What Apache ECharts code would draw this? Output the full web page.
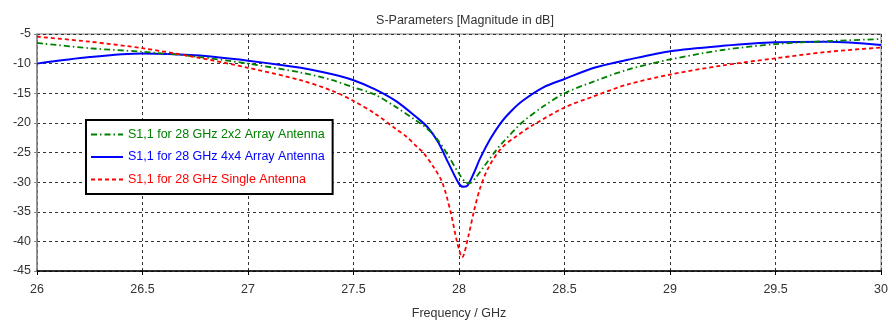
<!DOCTYPE html>
<html>
<head>
<meta charset="utf-8">
<script src="https://cdn.jsdelivr.net/npm/echarts@6/dist/echarts.min.js"></script>
<style>
  html, body { margin: 0; padding: 0; background: #fff; }
  #chart { width: 891px; height: 325px; }
</style>
</head>
<body>
<div id="chart"></div>
<script>
// values (GHz / dB)
const freq2x2 = [26, 26.25, 26.5, 26.75, 27, 27.25, 27.4, 27.5, 27.6, 27.7, 27.8, 27.85, 27.9, 27.95, 28, 28.03, 28.05, 28.08, 28.12, 28.17, 28.2, 28.3, 28.4, 28.5, 28.64, 28.8, 29, 29.25, 29.5, 29.75, 30];
const s11_2x2 = [-6.5, -7.4, -8.0, -8.8, -10.0, -11.5, -12.8, -14.0, -15.2, -17.3, -19.7, -21.0, -22.9, -25.6, -28.6, -30.0, -30.2, -29.2, -27.3, -24.9, -23.6, -19.9, -17.2, -15.0, -13.0, -11.0, -9.3, -7.7, -6.7, -6.2, -5.85];

const freq4x4 = [26, 26.25, 26.5, 26.75, 27, 27.25, 27.4, 27.5, 27.6, 27.7, 27.8, 27.85, 27.9, 27.95, 28, 28.02, 28.04, 28.07, 28.1, 28.15, 28.2, 28.25, 28.3, 28.4, 28.5, 28.64, 28.8, 29, 29.25, 29.5, 29.75, 30];
const s11_4x4 = [-10.0, -8.9, -8.3, -8.6, -9.5, -10.7, -11.8, -12.8, -14.3, -16.3, -19.1, -20.7, -23.2, -26.8, -30.3, -30.8, -30.6, -28.5, -26.0, -22.6, -19.9, -17.9, -16.3, -14.0, -12.6, -10.7, -9.35, -7.9, -7.0, -6.4, -6.3, -6.85];

const freqSingle = [26, 26.25, 26.5, 26.75, 27, 27.25, 27.4, 27.5, 27.6, 27.7, 27.75, 27.8, 27.83, 27.88, 27.92, 27.96, 27.99, 28.015, 28.045, 28.07, 28.1, 28.14, 28.2, 28.27, 28.34, 28.5, 28.64, 28.8, 29, 29.25, 29.5, 29.75, 30];
const s11Single = [-5.45, -6.3, -7.4, -8.9, -10.7, -12.8, -14.6, -16.3, -18.4, -21.0, -22.3, -24.0, -25.0, -27.5, -30.0, -35.0, -40.0, -42.7, -39.0, -35.0, -31.0, -27.5, -24.3, -22.3, -20.6, -17.4, -15.5, -13.5, -11.85, -10.3, -9.1, -8.0, -7.3];

const seriesNames = [
    "S1,1 for 28 GHz 2x2 Array Antenna",
    "S1,1 for 28 GHz 4x4 Array Antenna",
    "S1,1 for 28 GHz Single Antenna",
];
const seriesColors = ["#008000", "#0000ff", "#ff0000"];

const pairs = (xs, ys) => xs.map((x, i) => [x, ys[i]]);

const chart = echarts.init(document.getElementById("chart"));
const font = "'Liberation Sans', Arial, sans-serif";

const options = {
    animation: false,
    title: {
        text: "S-Parameters [Magnitude in dB]",
        left: 460,
        textAlign: "center",
        top: 9,
        textStyle: { fontFamily: font, fontSize: 12.5, fontWeight: "normal", color: "#333" },
    },
    legend: {
        orient: "vertical",
        left: 86,
        top: 120,
        backgroundColor: "#fff",
        borderColor: "#000",
        borderWidth: 2,
        padding: [8, 8, 8, 4],
        itemWidth: 32,
        itemHeight: 14,
        itemGap: 9.5,
        itemStyle: { opacity: 0 },
        textStyle: { fontFamily: font, fontSize: 12.5 },
        data: seriesNames.map((n, i) => ({ name: n, textStyle: { color: seriesColors[i] } })),
    },
    grid: {
        left: 37,
        right: 8,
        top: 34,
        bottom: 52,
        show: true,
        borderColor: "#7a7a7a",
        borderWidth: 1,
    },
    xAxis: {
        type: "value",
        min: 26,
        max: 30,
        interval: 0.5,
        name: "Frequency / GHz",
        nameLocation: "middle",
        nameGap: 36,
        nameTextStyle: { fontFamily: font, fontSize: 12.5, color: "#333" },
        axisLine: { lineStyle: { color: "#000", width: 1.5 } },
        axisTick: { show: true, length: 4, lineStyle: { color: "#000" } },
        axisLabel: { fontFamily: font, fontSize: 12.5, color: "#333", margin: 12 },
        splitLine: { lineStyle: { color: "#333", type: [3, 3], width: 1 } },
    },
    yAxis: {
        type: "value",
        min: -45,
        max: -5,
        interval: 5,
        axisLine: { show: true, lineStyle: { color: "#888", width: 1.5 } },
        axisTick: { show: true, length: 3, lineStyle: { color: "#888" } },
        axisLabel: { fontFamily: font, fontSize: 12.5, color: "#333", margin: 6 },
        splitLine: { lineStyle: { color: "#333", type: [3, 3], width: 1 } },
    },
    series: [
        {
            name: seriesNames[0],
            type: "line",
            showSymbol: false,
            symbol: "none",
            smooth: 0.3,
            color: seriesColors[0],
            lineStyle: { color: seriesColors[0], width: 1.8, type: [6, 3, 1.5, 3] },
            data: pairs(freq2x2, s11_2x2),
            z: 3,
        },
        {
            name: seriesNames[1],
            type: "line",
            showSymbol: false,
            symbol: "none",
            smooth: 0.3,
            color: seriesColors[1],
            lineStyle: { color: seriesColors[1], width: 2 },
            data: pairs(freq4x4, s11_4x4),
            z: 2,
        },
        {
            name: seriesNames[2],
            type: "line",
            showSymbol: false,
            symbol: "none",
            smooth: 0.3,
            color: seriesColors[2],
            lineStyle: { color: seriesColors[2], width: 1.8, type: [4, 3] },
            data: pairs(freqSingle, s11Single),
            z: 4,
        },
    ],
};

chart.setOption(options);
</script>
</body>
</html>
